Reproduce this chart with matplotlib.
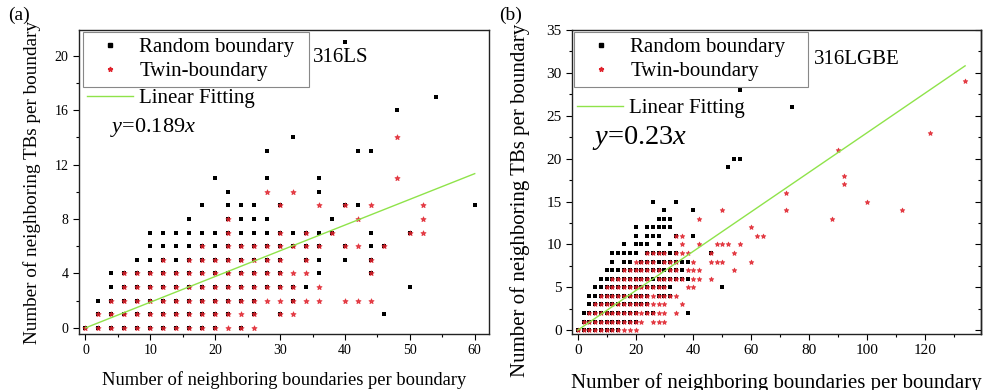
import matplotlib
matplotlib.use("Agg")
import matplotlib.pyplot as plt
from matplotlib.lines import Line2D
from matplotlib.ticker import MultipleLocator

plt.rcParams['font.family'] = ['Liberation Serif', 'DejaVu Serif']
plt.rcParams['mathtext.fontset'] = 'custom'
plt.rcParams['mathtext.rm'] = 'Liberation Serif'
plt.rcParams['mathtext.it'] = 'Liberation Serif:italic'

# ---------------- data: (y, [x values]) rows ----------------
# (a) 316LS
ls_random_rows = [
    (0, [0, 2, 4, 6, 8, 10, 12, 14, 16, 18, 20, 24]),
    (1, [2, 4, 6, 8, 10, 12, 14, 16, 18, 20, 22, 26, 30, 46]),
    (2, [2, 4, 6, 8, 10, 12, 14, 16, 18, 20, 22, 24, 26, 32]),
    (3, [4, 6, 8, 10, 12, 14, 16, 18, 20, 22, 24, 26, 28, 30, 32, 34, 50]),
    (4, [4, 6, 8, 10, 12, 14, 16, 18, 20, 22, 24, 26, 28, 30, 36, 44]),
    (5, [8, 10, 12, 14, 16, 18, 20, 22, 24, 26, 28, 30, 34, 36, 40, 44]),
    (6, [10, 12, 14, 16, 18, 20, 22, 24, 26, 28, 30, 32, 34, 36, 40, 44, 46]),
    (7, [10, 12, 14, 16, 18, 20, 22, 24, 26, 28, 30, 32, 34, 36, 38, 44, 50]),
    (8, [16, 22, 24, 26, 28, 38]),
    (9, [18, 22, 24, 26, 30, 40, 42, 60]),
    (10, [22, 36]),
    (11, [20, 28, 36]),
    (13, [28, 42, 44]),
    (14, [32]),
    (16, [48]),
    (17, [54]),
    (21, [40]),
]
ls_twin_rows = [
    (0, [0, 2, 4, 6, 8, 10, 12, 14, 16, 18, 20, 22, 24, 26]),
    (1, [2, 4, 6, 8, 10, 12, 14, 16, 18, 20, 22, 24, 26, 30, 32]),
    (2, [4, 6, 8, 10, 12, 14, 16, 18, 20, 22, 24, 26, 28, 30, 32, 34, 36, 40, 42, 44]),
    (3, [6, 8, 10, 12, 14, 16, 18, 20, 22, 24, 26, 28, 30, 32, 36]),
    (4, [6, 8, 10, 12, 14, 16, 18, 20, 22, 24, 26, 28, 30, 32, 34, 44]),
    (5, [12, 16, 18, 20, 22, 24, 26, 28, 30, 34, 44]),
    (6, [18, 22, 24, 26, 28, 30, 32, 34, 36, 40, 42, 46]),
    (7, [22, 30, 34, 38, 50, 52]),
    (8, [22, 42, 52]),
    (9, [30, 36, 40, 44, 52]),
    (10, [28, 32]),
    (11, [48]),
    (14, [48]),
]
ls_fit_slope = 0.189
ls_fit_xrange = [0, 60]

# (b) 316LGBE
lgbe_random_rows = [
    (0, [0, 2, 4, 6, 8, 10, 12, 14]),
    (1, [2, 4, 6, 8, 10, 12, 14, 16, 18, 20]),
    (2, [2, 4, 6, 8, 10, 12, 14, 16, 18, 20, 24, 26, 38]),
    (3, [4, 6, 8, 10, 12, 14, 16, 18, 20, 22, 24]),
    (4, [4, 6, 8, 10, 12, 14, 16, 18, 20, 22, 24, 28, 30, 32]),
    (5, [6, 8, 10, 12, 14, 16, 18, 20, 22, 24, 26, 28, 30, 32, 50]),
    (6, [8, 10, 12, 14, 16, 18, 20, 22, 24, 26, 28, 30, 32, 34, 36, 38]),
    (7, [10, 12, 14, 16, 18, 20, 22, 24, 26, 28, 30, 32, 34, 36]),
    (8, [12, 16, 18, 22, 24, 26, 28, 30, 32, 34, 36, 38]),
    (9, [12, 14, 16, 18, 20, 24, 26, 28, 30, 32, 34, 46]),
    (10, [16, 20, 22, 24, 28, 32]),
    (11, [20, 24, 26, 28, 34, 40]),
    (12, [20, 24, 26, 28, 30, 32]),
    (13, [28, 30, 32]),
    (14, [30, 40]),
    (15, [26, 34]),
    (19, [52]),
    (20, [54, 56]),
    (26, [74]),
    (28, [56]),
]
lgbe_twin_rows = [
    (0, [0, 2, 4, 6, 8, 10, 12, 14, 16, 18, 20]),
    (1, [2, 4, 6, 8, 10, 12, 14, 16, 18, 20, 22, 26, 28, 30]),
    (2, [4, 6, 8, 10, 12, 14, 16, 18, 20, 22, 24, 26, 28, 30, 34]),
    (3, [6, 8, 10, 12, 14, 16, 18, 20, 22, 24, 26, 28, 30, 36]),
    (4, [8, 10, 12, 14, 16, 18, 20, 22, 24, 26, 28, 30, 32, 34]),
    (5, [10, 12, 14, 16, 18, 20, 22, 24, 26, 28, 30, 38, 40]),
    (6, [12, 14, 16, 18, 20, 22, 24, 28, 30, 32, 34, 36, 40, 42, 46]),
    (7, [16, 18, 20, 22, 24, 26, 28, 32, 34, 38, 40, 42, 54]),
    (8, [20, 22, 24, 26, 30, 32, 34, 40, 46, 48, 50, 60]),
    (9, [24, 26, 28, 30, 34, 36, 38, 46, 54]),
    (10, [36, 42, 48, 50, 52, 56]),
    (11, [34, 36, 62, 64]),
    (12, [60]),
    (13, [42, 88]),
    (14, [50, 72, 112]),
    (15, [100]),
    (16, [72]),
    (17, [92]),
    (18, [92]),
    (21, [90]),
    (23, [122]),
    (29, [134]),
]
lgbe_fit_slope = 0.23
lgbe_fit_xrange = [0, 134]

legend_labels = ['Random boundary', 'Twin-boundary', 'Linear Fitting']
xlabel = 'Number of neighboring boundaries per boundary'
ylabel = 'Number of neighboring TBs per boundary'


def expand(rows):
    xs, ys = [], []
    for y, row in rows:
        for x in row:
            xs.append(x)
            ys.append(y)
    return xs, ys


BLACK = '#000000'
RED = '#e0232d'
GREEN = '#8fe34a'

fig = plt.figure(figsize=(9.92, 3.9), dpi=100)
axA = fig.add_axes([79 / 992, 56 / 390, 410 / 992, 304 / 390])
axB = fig.add_axes([572 / 992, 56 / 390, 409 / 992, 304 / 390])


def draw(ax, rrows, trows, slope, xr, sq, st, fs_tick):
    rx, ry = expand(rrows)
    tx, ty = expand(trows)
    ax.scatter(rx, ry, marker='s', s=sq, c=BLACK, linewidths=0, zorder=3)
    ax.scatter(tx, ty, marker='*', s=st, c=RED, edgecolors=RED, linewidths=0.7,
               alpha=0.82, zorder=4)
    ax.plot(xr, [slope * v for v in xr], color=GREEN, lw=1.0, zorder=5)
    ax.tick_params(axis='both', which='both', direction='out', labelsize=fs_tick,
                   top=False, right=False)
    ax.tick_params(which='major', length=4, width=0.8)
    ax.tick_params(which='minor', length=2.5, width=0.8)
    for s in ax.spines.values():
        s.set_linewidth(1.0)
        s.set_color('#222222')


# ---- panel (a)
draw(axA, ls_random_rows, ls_twin_rows, ls_fit_slope, ls_fit_xrange, 8, 14, 10)
axA.set_xlim(-1, 62.2)
axA.set_ylim(-0.45, 21.9)
axA.xaxis.set_major_locator(MultipleLocator(10))
axA.xaxis.set_minor_locator(MultipleLocator(5))
axA.yaxis.set_major_locator(MultipleLocator(4))
axA.yaxis.set_minor_locator(MultipleLocator(2))
axA.set_xlabel(xlabel, fontsize=13.3, labelpad=10)
axA.set_ylabel(ylabel, fontsize=13.8, labelpad=3)
axA.yaxis.set_label_coords(-0.093, 0.5)

# ---- panel (b)
draw(axB, lgbe_random_rows, lgbe_twin_rows, lgbe_fit_slope, lgbe_fit_xrange, 6.5, 11, 11)
axB.set_xlim(-2, 139.5)
axB.set_ylim(-0.45, 35)
axB.xaxis.set_major_locator(MultipleLocator(20))
axB.xaxis.set_minor_locator(MultipleLocator(10))
axB.yaxis.set_major_locator(MultipleLocator(5))
axB.yaxis.set_minor_locator(MultipleLocator(2.5))
axB.set_xlabel(xlabel, fontsize=15, labelpad=11)
axB.set_ylabel(ylabel, fontsize=15, labelpad=2)
axB.yaxis.set_label_coords(-0.103, 0.44)
secB = axB.secondary_yaxis('right')
secB.yaxis.set_major_locator(MultipleLocator(5))
secB.yaxis.set_minor_locator(MultipleLocator(2.5))
secB.tick_params(which='both', direction='in', labelright=False, width=0.8)
secB.tick_params(which='major', length=4)
secB.tick_params(which='minor', length=2.5)
secB.spines['right'].set_linewidth(1.0)


def legends(ax, fs, box, anchor2):
    h1 = [Line2D([], [], ls='none', marker='s', ms=2.5, color=BLACK),
          Line2D([], [], ls='none', marker='*', ms=3.5, color=RED)]
    leg = ax.legend(h1, legend_labels[:2], loc='upper left', bbox_to_anchor=box,
                    mode='expand', fontsize=fs, frameon=True, fancybox=False,
                    edgecolor='#888888', framealpha=1, borderpad=0.3,
                    labelspacing=0.2, handlelength=2.0, handletextpad=0.4,
                    borderaxespad=0)
    leg.get_frame().set_linewidth(0.8)
    ax.add_artist(leg)
    h2 = [Line2D([], [], color=GREEN, lw=1.0)]
    ax.legend(h2, legend_labels[2:], loc='center left', bbox_to_anchor=anchor2,
              fontsize=fs, frameon=False, handlelength=2.2, handletextpad=0.3,
              borderaxespad=0, borderpad=0)


legends(axA, 15, (0.01, 0.822, 0.551, 0.173), (0.02, 0.776))
legends(axB, 15, (0.005, 0.816, 0.572, 0.179), (0.012, 0.743))

axA.text(0.571, 0.91, '316LS', transform=axA.transAxes, fontsize=15, va='center', ha='left')
axA.text(0.075, 0.68, r'$\mathit{y}$=0.189$\mathit{x}$', transform=axA.transAxes,
         fontsize=16, va='center', ha='left')
axB.text(0.591, 0.903, '316LGBE', transform=axB.transAxes, fontsize=15, va='center', ha='left')
axB.text(0.05, 0.645, r'$\mathit{y}$=0.23$\mathit{x}$', transform=axB.transAxes,
         fontsize=20.5, va='center', ha='left')

fig.text(8 / 992, 1 - 15 / 390, '(a)', fontsize=14, va='center', ha='left')
fig.text(499 / 992, 1 - 15 / 390, '(b)', fontsize=14, va='center', ha='left')

fig.savefig('out.png', dpi=100, facecolor='white')
